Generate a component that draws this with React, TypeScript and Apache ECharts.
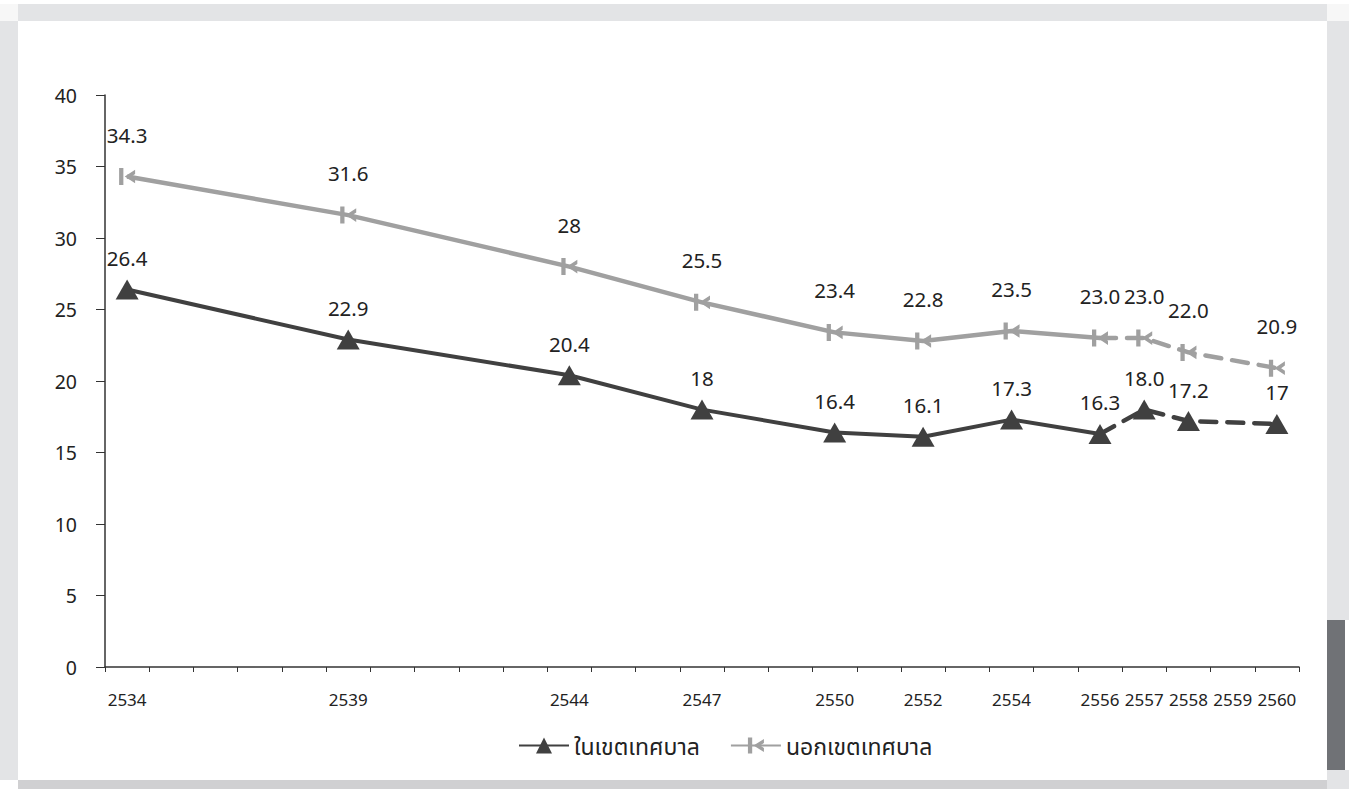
import React, { useEffect, useRef } from "react";
import * as echarts from "echarts";

const years: number[] = [];
for (let y = 2534; y <= 2560; y++) years.push(y);
const shownYears = [2534, 2539, 2544, 2547, 2550, 2552, 2554, 2556, 2557, 2558, 2559, 2560];
const dataYears = [2534, 2539, 2544, 2547, 2550, 2552, 2554, 2556, 2557, 2558, 2560];
const inMuni = [26.4, 22.9, 20.4, 18, 16.4, 16.1, 17.3, 16.3, 18.0, 17.2, 17];
const outMuni = [34.3, 31.6, 28, 25.5, 23.4, 22.8, 23.5, 23.0, 23.0, 22.0, 20.9];
const inLabels = ["26.4", "22.9", "20.4", "18", "16.4", "16.1", "17.3", "16.3", "18.0", "17.2", "17"];
const outLabels = ["34.3", "31.6", "28", "25.5", "23.4", "22.8", "23.5", "23.0", "23.0", "22.0", "20.9"];
const splitYear = 2556;
const nameIn = "ในเขตเทศบาล";
const nameOut = "นอกเขตเทศบาล";

const FONT = "'Noto Sans', 'Noto Sans Thai', Tahoma, sans-serif";
const outSymbol = "path://M0,0 L3.2,0 L3.2,15 L0,15 Z M4.2,7.5 L12,1.5 L12,5.2 L9.2,7.5 L12,9.8 L12,13.5 Z";

function buildSeriesData(vals: number[], part: "solid" | "dash") {
  return years.map((y) => {
    const i = dataYears.indexOf(y);
    if (i < 0) return null;
    if (part === "solid" && y > splitYear) return null;
    if (part === "dash" && y < splitYear) return null;
    return vals[i];
  });
}

function labelFor(labels: string[]) {
  return (p: any) => {
    const y = years[p.dataIndex];
    const i = dataYears.indexOf(y);
    return i < 0 ? "" : labels[i];
  };
}

export default function App() {
  const ref = useRef<HTMLDivElement>(null);
  useEffect(() => {
    if (!ref.current) return;
    const chart = echarts.init(ref.current, undefined, { renderer: "svg" });
    const dark = "#404040";
    const light = "#a0a0a0";
    const labelStyleIn = { show: true, position: "top", distance: 11, fontSize: 20.5, color: "#222", fontFamily: FONT };
    const labelStyleOut = { show: true, position: "top", distance: 23, fontSize: 20.5, color: "#222", fontFamily: FONT };
    const splitIdx = years.indexOf(splitYear);
    chart.setOption({
      animation: false,
      textStyle: { fontFamily: FONT },
      grid: { left: 105, right: 50, top: 95, bottom: 122 },
      legend: {
        top: 729,
        left: 513,
        itemWidth: 50,
        itemHeight: 20,
        itemGap: 30,
        textStyle: { fontSize: 23, color: "#222", fontFamily: FONT },
        data: [nameIn, nameOut],
      },
      xAxis: {
        type: "category",
        data: years.map(String),
        boundaryGap: true,
        axisLine: { lineStyle: { color: "#333", width: 1.5 } },
        axisTick: { show: true, interval: 0, length: 5, lineStyle: { color: "#333" } },
        axisLabel: {
          interval: (i: number) => shownYears.indexOf(years[i]) >= 0,
          fontSize: 17,
          color: "#222",
          margin: 24,
          fontFamily: FONT,
        },
      },
      yAxis: {
        type: "value",
        min: 0,
        max: 40,
        interval: 5,
        axisLine: { show: true, lineStyle: { color: "#333", width: 1.5 } },
        axisTick: { show: true, length: 9, lineStyle: { color: "#333" } },
        splitLine: { show: false },
        axisLabel: { fontSize: 19.5, color: "#222", margin: 28, fontFamily: FONT },
      },
      series: [
        {
          name: nameIn,
          type: "line",
          data: buildSeriesData(inMuni, "solid"),
          connectNulls: true,
          symbol: "triangle",
          symbolSize: [23, 20],
          itemStyle: { color: dark },
          lineStyle: { color: dark, width: 4 },
          label: { ...labelStyleIn, formatter: labelFor(inLabels) },
          z: 3,
        },
        {
          name: nameOut,
          type: "line",
          data: buildSeriesData(outMuni, "solid"),
          connectNulls: true,
          symbol: outSymbol,
          symbolSize: [16, 17],
          itemStyle: { color: light },
          lineStyle: { color: light, width: 4.5 },
          label: { ...labelStyleOut, formatter: labelFor(outLabels) },
          z: 2,
        },
        {
          name: nameIn + " (ประมาณ)",
          type: "line",
          data: buildSeriesData(inMuni, "dash"),
          connectNulls: true,
          symbol: (_v: any, p: any) => (p.dataIndex === splitIdx ? "none" : "triangle"),
          symbolSize: [23, 20],
          itemStyle: { color: dark },
          lineStyle: { color: dark, width: 4.5, type: [16, 11], cap: "round" },
          label: {
            ...labelStyleIn,
            formatter: (p: any) => (p.dataIndex === splitIdx ? "" : labelFor(inLabels)(p)),
          },
          z: 3,
        },
        {
          name: nameOut + " (ประมาณ)",
          type: "line",
          data: buildSeriesData(outMuni, "dash"),
          connectNulls: true,
          symbol: (_v: any, p: any) => (p.dataIndex === splitIdx ? "none" : outSymbol),
          symbolSize: [16, 17],
          itemStyle: { color: light },
          lineStyle: { color: light, width: 4.5, type: [16, 11], cap: "round" },
          label: {
            ...labelStyleOut,
            formatter: (p: any) => (p.dataIndex === splitIdx ? "" : labelFor(outLabels)(p)),
          },
          z: 2,
        },
      ],
    });
    return () => chart.dispose();
  }, []);

  const box = (left: number, top: number, width: number, height: number, bg: string) => (
    <div style={{ position: "absolute", left, top, width, height, background: bg }} />
  );

  return (
    <div style={{ position: "fixed", left: 0, top: 0, width: 1349, height: 789, background: "#fff", overflow: "hidden" }}>
      {box(0, 4, 18, 17, "#f7f7f7")}
      {box(18, 4, 1309, 17, "#e3e4e6")}
      {box(1327, 4, 22, 17, "#f7f7f7")}
      {box(0, 21, 18, 759, "#e3e4e6")}
      {box(1327, 21, 22, 599, "#e3e4e6")}
      {box(1327, 620, 18, 150, "#707276")}
      {box(1327, 770, 22, 19, "#e3e4e6")}
      {box(18, 780, 1309, 9, "#d0d0d2")}
      <div ref={ref} style={{ position: "absolute", left: 0, top: 0, width: 1349, height: 789 }} />
    </div>
  );
}
